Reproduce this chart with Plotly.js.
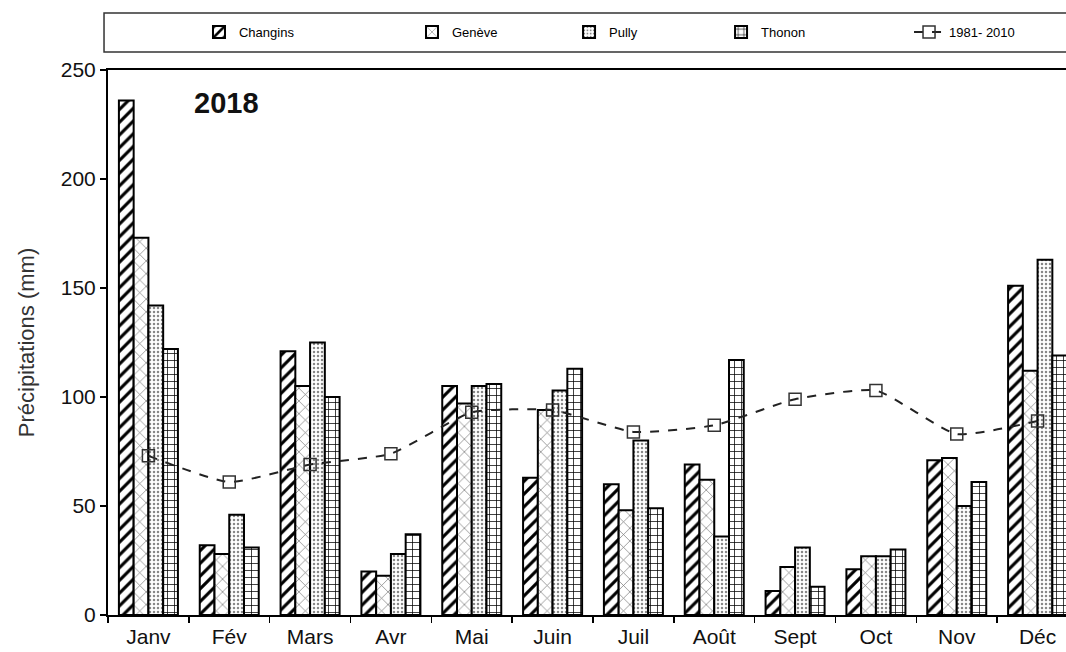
<!DOCTYPE html>
<html>
<head>
<meta charset="utf-8">
<script src="https://cdn.plot.ly/plotly-3.0.1.min.js"></script>
<style>
html,body{margin:0;padding:0;overflow:hidden;background:#fff;}
#chart{width:1085px;height:652px;}
</style>
</head>
<body>
<div id="chart"></div>
<script>
const months = ["Janv","Fév","Mars","Avr","Mai","Juin","Juil","Août","Sept","Oct","Nov","Déc"];
const changins = [236, 32, 121, 20, 105, 63, 60, 69, 11, 21, 71, 151];
const geneve   = [173, 28, 105, 18, 97, 94, 48, 62, 22, 27, 72, 112];
const pully    = [142, 46, 125, 28, 105, 103, 80, 36, 31, 27, 50, 163];
const thonon   = [122, 31, 100, 37, 106, 113, 49, 117, 13, 30, 61, 119];
const normale  = [73, 61, 69, 74, 93, 94, 84, 87, 99, 103, 83, 89];
const yTicks = [0, 50, 100, 150, 200, 250];

function barTrace(name, y, shape, fg, size, solidity, leg) {
  return {
    type: 'bar', name: name, x: months, y: y, legend: leg,
    marker: {
      color: '#ffffff',
      line: {color: '#000', width: 2},
      pattern: {shape: shape, fgcolor: fg, bgcolor: '#ffffff', size: size, solidity: solidity, fillmode: 'replace'}
    }
  };
}

const data = [
  barTrace('Changins', changins, '/', '#000', 9, 0.35, 'legend'),
  barTrace('Genève', geneve, 'x', '#777', 9, 0.15, 'legend2'),
  barTrace('Pully', pully, '.', '#888', 4, 0.3, 'legend3'),
  barTrace('Thonon', thonon, '+', '#000', 7, 0.2, 'legend4'),
  {
    type: 'scatter', mode: 'lines+markers', name: '1981- 2010', legend: 'legend5',
    x: months, y: normale,
    line: {color: '#222', width: 2, dash: 'dash', shape: 'spline', smoothing: 0.5},
    marker: {symbol: 'square-open', size: 12, color: '#333', line: {width: 1.5}}
  }
];

function leg(x) {
  return {
    orientation: 'h', x: x, xanchor: 'left', y: 1.0697, yanchor: 'middle',
    font: {size: 13, color: '#000'}, bgcolor: 'rgba(0,0,0,0)', borderwidth: 0
  };
}

const layout = {
  width: 1085, height: 652,
  margin: {l: 108, r: 7, t: 70, b: 37},
  paper_bgcolor: '#fff', plot_bgcolor: '#fff',
  font: {family: 'Liberation Sans, Arial, sans-serif', color: '#111'},
  barmode: 'group', bargap: 0.27, bargroupgap: 0,
  showlegend: true,
  legend: leg(0.0938),
  legend2: leg(0.3134),
  legend3: leg(0.4753),
  legend4: leg(0.6320),
  legend5: leg(0.8258),
  shapes: [{
    type: 'rect', xref: 'paper', yref: 'paper',
    x0: -0.0041, x1: 1.1, y0: 1.033, y1: 1.1046,
    line: {color: '#333', width: 1.5}, fillcolor: 'rgba(0,0,0,0)'
  }],
  annotations: [{
    xref: 'paper', yref: 'paper', x: 0.122, y: 0.94,
    xanchor: 'center', yanchor: 'middle', showarrow: false,
    text: '<b>2018</b>', font: {size: 29, color: '#111'}
  }],
  xaxis: {
    type: 'category', range: [-0.5, 11.5],
    showline: true, linecolor: '#000', linewidth: 2, mirror: true,
    ticks: 'outside', ticklen: 6, tickcolor: '#000', tickwidth: 1.5, tickson: 'boundaries',
    ticklabelstandoff: 2,
    tickfont: {size: 21, color: '#111'}, showgrid: false, zeroline: false
  },
  yaxis: {
    range: [0, 250], tickvals: yTicks, ticktext: yTicks.map(String),
    showline: true, linecolor: '#000', linewidth: 2, mirror: true,
    ticks: 'outside', ticklen: 6, tickcolor: '#000', tickwidth: 1.5,
    tickfont: {size: 21, color: '#111'}, showgrid: false, zeroline: false,
    title: {text: 'Précipitations (mm)', font: {size: 22, color: '#333'}, standoff: 20}
  }
};

Plotly.newPlot('chart', data, layout, {displayModeBar: false, staticPlot: true});
</script>
</body>
</html>
